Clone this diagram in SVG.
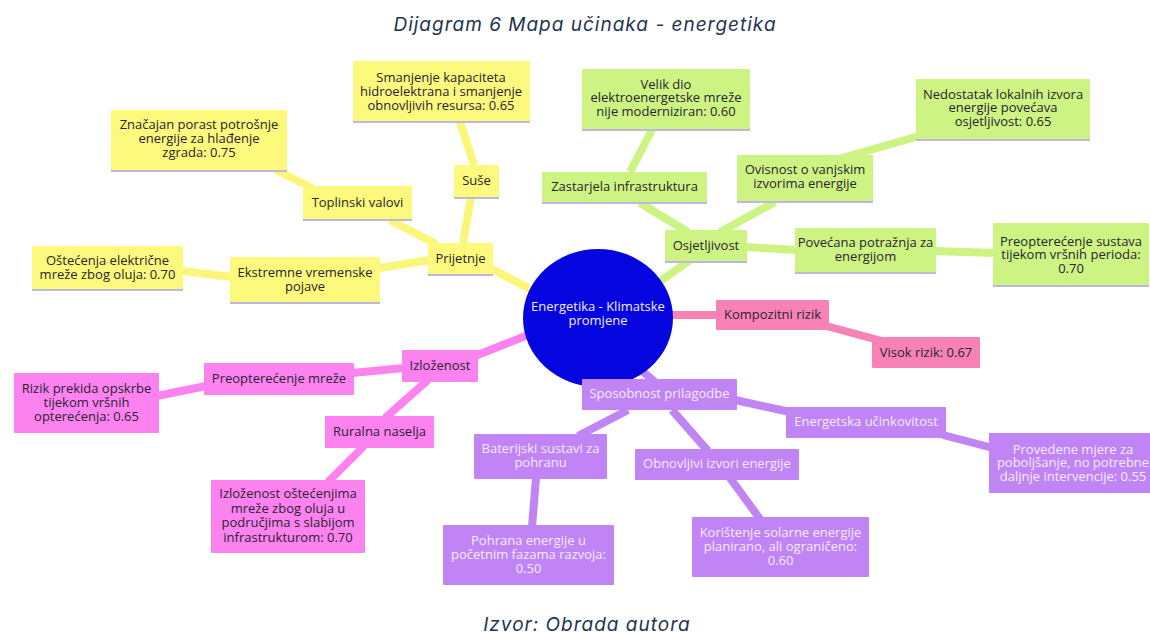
<svg xmlns="http://www.w3.org/2000/svg" width="1150" height="635" viewBox="0 0 1150 635">
<style>
.t{font-family:"Open Sans","Noto Sans","DejaVu Sans",sans-serif;font-size:13px;text-anchor:middle;fill:#2a2330}
.tw{font-family:"Open Sans","Noto Sans","DejaVu Sans",sans-serif;font-size:13px;text-anchor:middle;fill:#f4ecff}
.cap{font-family:Inter,"Open Sans","DejaVu Sans",sans-serif;font-style:italic;font-size:19px;letter-spacing:1px;text-anchor:middle;fill:#1e3550}
.y{fill:#fcf97c}
.g{fill:#cdf383}
.p{fill:#fc82f0}
.k{fill:#f882b6}
.v{fill:#c084f4}
.sh{fill:#bdb8dc}
.cy{stroke:#faf67a;stroke-width:8;fill:none}
.cg{stroke:#cdf383;stroke-width:8;fill:none}
.cp{stroke:#fc82f0;stroke-width:8;fill:none}
.ck{stroke:#f882b6;stroke-width:8;fill:none}
.cv{stroke:#c084f4;stroke-width:8;fill:none}
</style>
<rect width="1150" height="635" fill="#ffffff"/>
<text class="cap" x="585" y="31">Dijagram 6 Mapa učinaka - energetika</text>
<text class="cap" x="587" y="631">Izvor: Obrada autora</text>

<g id="connectors">
<line class="cy" x1="460" y1="122" x2="474" y2="165"/>
<line class="cy" x1="471" y1="197" x2="463" y2="243"/>
<line class="cy" x1="276" y1="170" x2="312" y2="188"/>
<line class="cy" x1="390" y1="220" x2="436" y2="244"/>
<line class="cy" x1="379" y1="268" x2="430" y2="260"/>
<line class="cy" x1="183" y1="271" x2="232" y2="277"/>
<line class="cy" x1="490" y1="268" x2="532" y2="290"/>
<line class="cg" x1="652" y1="130" x2="630" y2="172"/>
<line class="cg" x1="640" y1="203" x2="688" y2="232"/>
<line class="cg" x1="775" y1="202" x2="720" y2="232"/>
<line class="cg" x1="835" y1="160" x2="940" y2="130"/>
<line class="cg" x1="745" y1="247" x2="797" y2="250"/>
<line class="cg" x1="934" y1="251" x2="995" y2="253"/>
<line class="cg" x1="690" y1="260" x2="655" y2="285"/>
<line class="cp" x1="470" y1="358" x2="528" y2="335"/>
<line class="cp" x1="352" y1="373" x2="404" y2="368"/>
<line class="cp" x1="157" y1="396" x2="206" y2="386"/>
<line class="cp" x1="428" y1="380" x2="385" y2="418"/>
<line class="cp" x1="364" y1="446" x2="328" y2="482"/>
<line class="ck" x1="668" y1="315" x2="718" y2="315"/>
<line class="ck" x1="826" y1="326" x2="886" y2="342"/>
<line class="cv" x1="635" y1="365" x2="655" y2="382"/>
<line class="cv" x1="735" y1="400" x2="790" y2="412"/>
<line class="cv" x1="943" y1="435" x2="993" y2="448"/>
<line class="cv" x1="628" y1="410" x2="578" y2="436"/>
<line class="cv" x1="672" y1="410" x2="708" y2="451"/>
<line class="cv" x1="536" y1="478" x2="532" y2="527"/>
<line class="cv" x1="730" y1="478" x2="760" y2="519"/>
</g>

<g id="center">
<ellipse cx="598" cy="318" rx="75" ry="69" fill="#0505e0"/>
<text class="tw" x="598" y="311">Energetika - Klimatske</text>
<text class="tw" x="598" y="325">promjene</text>
</g>

<g id="y-smanjenje"><rect class="sh" x="353" y="62" width="177" height="61"/><rect class="y" x="353" y="61" width="177" height="60" rx="1"/>
<text class="t" x="441" y="82">Smanjenje kapaciteta</text><text class="t" x="441" y="96">hidroelektrana i smanjenje</text><text class="t" x="441" y="110">obnovljivih resursa: 0.65</text></g>
<g id="y-znacajan"><rect class="sh" x="111" y="111" width="176" height="61"/><rect class="y" x="111" y="110" width="176" height="60" rx="1"/>
<text class="t" x="199" y="129">Značajan porast potrošnje</text><text class="t" x="199" y="143">energije za hlađenje</text><text class="t" x="199" y="157">zgrada: 0.75</text></g>
<g id="y-suse"><rect class="sh" x="454" y="166" width="45" height="33"/><rect class="y" x="454" y="165" width="45" height="32" rx="1"/>
<text class="t" x="476.5" y="185">Suše</text></g>
<g id="y-toplinski"><rect class="sh" x="303" y="187" width="109" height="34"/><rect class="y" x="303" y="186" width="109" height="33" rx="1"/>
<text class="t" x="357.5" y="207">Toplinski valovi</text></g>
<g id="y-prijetnje"><rect class="sh" x="428" y="244" width="65" height="32"/><rect class="y" x="428" y="243" width="65" height="31" rx="1"/>
<text class="t" x="460.5" y="263">Prijetnje</text></g>
<g id="y-ekstremne"><rect class="sh" x="230" y="258" width="150" height="46"/><rect class="y" x="230" y="257" width="150" height="45" rx="1"/>
<text class="t" x="305" y="277">Ekstremne vremenske</text><text class="t" x="305" y="291">pojave</text></g>
<g id="y-ostecenja"><rect class="sh" x="32" y="247" width="151" height="44"/><rect class="y" x="32" y="246" width="151" height="43" rx="1"/>
<text class="t" x="107.5" y="265">Oštećenja električne</text><text class="t" x="107.5" y="279">mreže zbog oluja: 0.70</text></g>

<g id="g-velik"><rect class="sh" x="582" y="70" width="168" height="61"/><rect class="g" x="582" y="69" width="168" height="60" rx="1"/>
<text class="t" x="666" y="89">Velik dio</text><text class="t" x="666" y="102">elektroenergetske mreže</text><text class="t" x="666" y="116">nije moderniziran: 0.60</text></g>
<g id="g-nedostatak"><rect class="sh" x="916" y="80" width="174" height="61"/><rect class="g" x="916" y="79" width="174" height="60" rx="1"/>
<text class="t" x="1003" y="99">Nedostatak lokalnih izvora</text><text class="t" x="1003" y="112">energije povećava</text><text class="t" x="1003" y="126">osjetljivost: 0.65</text></g>
<g id="g-zastarjela"><rect class="sh" x="542" y="173" width="165" height="31"/><rect class="g" x="542" y="172" width="165" height="30" rx="1"/>
<text class="t" x="624.5" y="191">Zastarjela infrastruktura</text></g>
<g id="g-ovisnost"><rect class="sh" x="737" y="156" width="136" height="47"/><rect class="g" x="737" y="155" width="136" height="46" rx="1"/>
<text class="t" x="805" y="174">Ovisnost o vanjskim</text><text class="t" x="805" y="188">izvorima energije</text></g>
<g id="g-osjetljivost"><rect class="sh" x="665" y="231" width="82" height="32"/><rect class="g" x="665" y="230" width="82" height="31" rx="1"/>
<text class="t" x="706" y="250">Osjetljivost</text></g>
<g id="g-povecana"><rect class="sh" x="795" y="229" width="141" height="45"/><rect class="g" x="795" y="228" width="141" height="44" rx="1"/>
<text class="t" x="865.5" y="247">Povećana potražnja za</text><text class="t" x="865.5" y="261">energijom</text></g>
<g id="g-preopterecenje"><rect class="sh" x="993" y="224" width="156" height="63"/><rect class="g" x="993" y="223" width="156" height="62" rx="1"/>
<text class="t" x="1071" y="246">Preopterećenje sustava</text><text class="t" x="1071" y="259">tijekom vršnih perioda:</text><text class="t" x="1071" y="273">0.70</text></g>

<g id="p-izlozenost"><rect class="p" x="402" y="350" width="76" height="32" rx="1"/>
<text class="t" x="440" y="370">Izloženost</text></g>
<g id="p-preopterecenje"><rect class="p" x="204" y="363" width="150" height="32" rx="1"/>
<text class="t" x="279" y="383">Preopterećenje mreže</text></g>
<g id="p-rizik"><rect class="p" x="14" y="373" width="145" height="60" rx="1"/>
<text class="t" x="86.5" y="393">Rizik prekida opskrbe</text><text class="t" x="86.5" y="407">tijekom vršnih</text><text class="t" x="86.5" y="421">opterećenja: 0.65</text></g>
<g id="p-ruralna"><rect class="p" x="325" y="416" width="109" height="32" rx="1"/>
<text class="t" x="379.5" y="436">Ruralna naselja</text></g>
<g id="p-izlozenost-ostecenjima"><rect class="p" x="211" y="480" width="154" height="73" rx="1"/>
<text class="t" x="288" y="498">Izloženost oštećenjima</text><text class="t" x="288" y="513">mreže zbog oluja u</text><text class="t" x="288" y="527">područjima s slabijom</text><text class="t" x="288" y="542">infrastrukturom: 0.70</text></g>

<g id="k-kompozitni"><rect class="k" x="716" y="300" width="113" height="30" rx="1"/>
<text class="t" x="772.5" y="319">Kompozitni rizik</text></g>
<g id="k-visok"><rect class="k" x="872" y="337" width="108" height="31" rx="1"/>
<text class="t" x="926" y="357">Visok rizik: 0.67</text></g>

<g id="v-sposobnost"><rect class="v" x="582" y="379" width="155" height="31" rx="1"/>
<text class="tw" x="659.5" y="398">Sposobnost prilagodbe</text></g>
<g id="v-energetska"><rect class="v" x="786" y="407" width="160" height="31" rx="1"/>
<text class="tw" x="866" y="426">Energetska učinkovitost</text></g>
<g id="v-provedene"><rect class="v" x="989" y="433" width="170" height="60" rx="1"/>
<text class="tw" x="1073" y="454">Provedene mjere za</text><text class="tw" x="1073" y="467">poboljšanje, no potrebne</text><text class="tw" x="1073" y="481">daljnje intervencije: 0.55</text></g>
<g id="v-baterijski"><rect class="v" x="474" y="434" width="133" height="45" rx="1"/>
<text class="tw" x="540.5" y="453">Baterijski sustavi za</text><text class="tw" x="540.5" y="467">pohranu</text></g>
<g id="v-obnovljivi"><rect class="v" x="635" y="449" width="164" height="31" rx="1"/>
<text class="tw" x="717" y="468">Obnovljivi izvori energije</text></g>
<g id="v-pohrana"><rect class="v" x="443" y="525" width="171" height="60" rx="1"/>
<text class="tw" x="528.5" y="545">Pohrana energije u</text><text class="tw" x="528.5" y="559">početnim fazama razvoja:</text><text class="tw" x="528.5" y="573">0.50</text></g>
<g id="v-koristenje"><rect class="v" x="692" y="517" width="177" height="60" rx="1"/>
<text class="tw" x="780.5" y="537">Korištenje solarne energije</text><text class="tw" x="780.5" y="551">planirano, ali ograničeno:</text><text class="tw" x="780.5" y="565">0.60</text></g>
</svg>
